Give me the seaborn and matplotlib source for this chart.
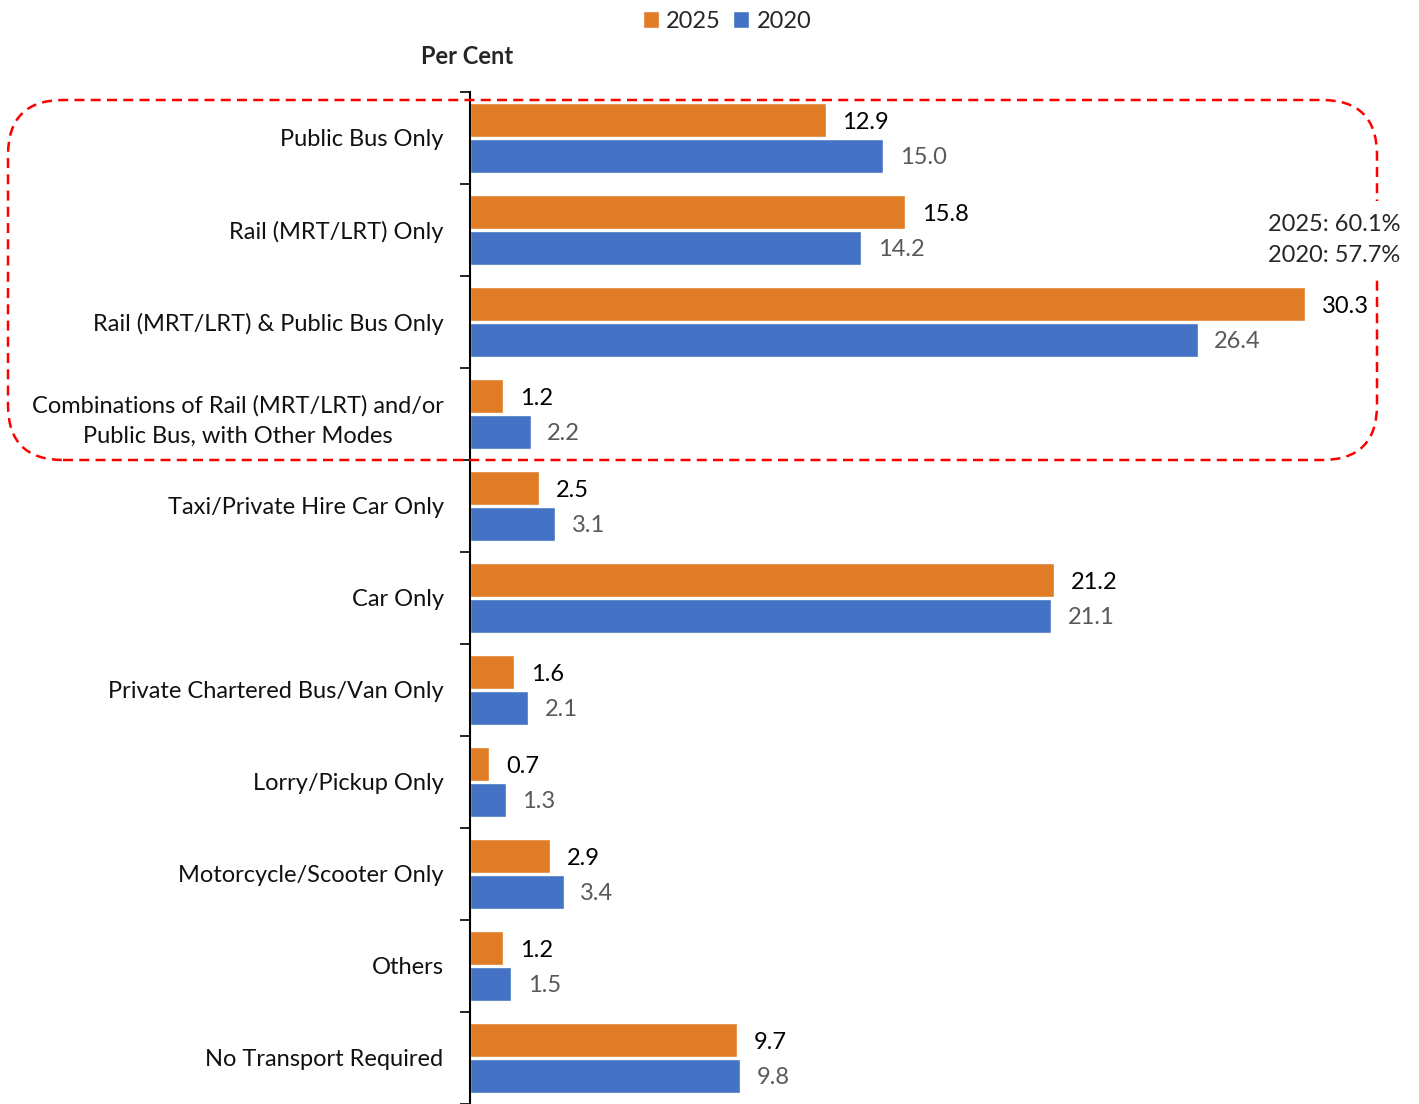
import matplotlib
matplotlib.use("Agg")
import matplotlib.pyplot as plt
from matplotlib.patches import FancyBboxPatch, Patch
import seaborn as sns
import pandas as pd

categories = ["Public Bus Only", "Rail (MRT/LRT) Only", "Rail (MRT/LRT) & Public Bus Only",
              "Combinations of Rail (MRT/LRT) and/or\nPublic Bus, with Other Modes",
              "Taxi/Private Hire Car Only", "Car Only", "Private Chartered Bus/Van Only",
              "Lorry/Pickup Only", "Motorcycle/Scooter Only", "Others", "No Transport Required"]
v2025 = [12.9, 15.8, 30.3, 1.2, 2.5, 21.2, 1.6, 0.7, 2.9, 1.2, 9.7]
v2020 = [15.0, 14.2, 26.4, 2.2, 3.1, 21.1, 2.1, 1.3, 3.4, 1.5, 9.8]
years = ["2025", "2020"]
colors = {"2025": "#E07C26", "2020": "#4472C4"}
group_note = "2025: 60.1%\n2020: 57.7%"

df = pd.DataFrame({
    "Category": categories * 2,
    "Year": ["2025"] * len(categories) + ["2020"] * len(categories),
    "Value": v2025 + v2020,
})

sns.set_theme(style="white")
plt.rcParams["font.family"] = ["Lato", "DejaVu Sans"]

W, H = 1419, 1104
fig = plt.figure(figsize=(W / 100, H / 100), dpi=100)
ax = fig.add_axes([470 / W, 0, (1407 - 470) / W, 1 - 92 / H])

sns.barplot(data=df, y="Category", x="Value", hue="Year", order=categories,
            hue_order=years, palette=colors, orient="h", width=0.78, gap=0.07,
            saturation=1, ax=ax, legend=False)

ax.set_xlim(0, 34)
ax.set_ylim(len(categories) - 0.5, -0.5)
ax.set_xlabel("")
ax.set_ylabel("")
ax.set_xticks([])
for s in ["top", "right", "bottom"]:
    ax.spines[s].set_visible(False)
ax.spines["left"].set_color("black")
ax.spines["left"].set_linewidth(1.5)

ax.set_yticks(range(len(categories)))
ax.set_yticklabels(categories, fontsize=17, color="#111111", multialignment="center",
                   linespacing=1.55)
ax.tick_params(axis="y", which="major", length=0, pad=19)
ax.set_yticks([i - 0.5 for i in range(len(categories) + 1)], minor=True)
ax.tick_params(axis="y", which="minor", length=7, width=1.2, color="black", left=True)

label_colors = ["#000000", "#595959"]
for cont, lc in zip(ax.containers, label_colors):
    texts = ax.bar_label(cont, fmt="%.1f", padding=12, fontsize=17, color=lc)
    for t in texts:
        t.set_va("center_baseline")

fig.text(467 / W, 1 - 57 / H, "Per Cent", ha="center", va="center",
         fontsize=17, fontweight="bold")

handles = [Patch(facecolor=colors[y], label=y) for y in years]
fig.legend(handles=handles, loc="center", bbox_to_anchor=(727 / W, 1 - 21 / H),
           ncol=2, frameon=False, fontsize=17, handlelength=0.7, handleheight=0.7,
           handletextpad=0.3, columnspacing=0.5)

box = FancyBboxPatch((8 / 100, (H - 460) / 100), (1377 - 8) / 100, (460 - 100) / 100,
                     boxstyle="round,pad=0,rounding_size=0.55",
                     transform=fig.dpi_scale_trans, fill=False, edgecolor="#FF0000",
                     linestyle=(0, (4, 2.5)), linewidth=1.8, zorder=5)
fig.add_artist(box)
fig.text(1334 / W, 1 - 240 / H, group_note, ha="center", va="center", fontsize=17,
         linespacing=1.6, zorder=6,
         bbox=dict(facecolor="white", edgecolor="none", pad=9))

fig.savefig("out.png", dpi=100)
